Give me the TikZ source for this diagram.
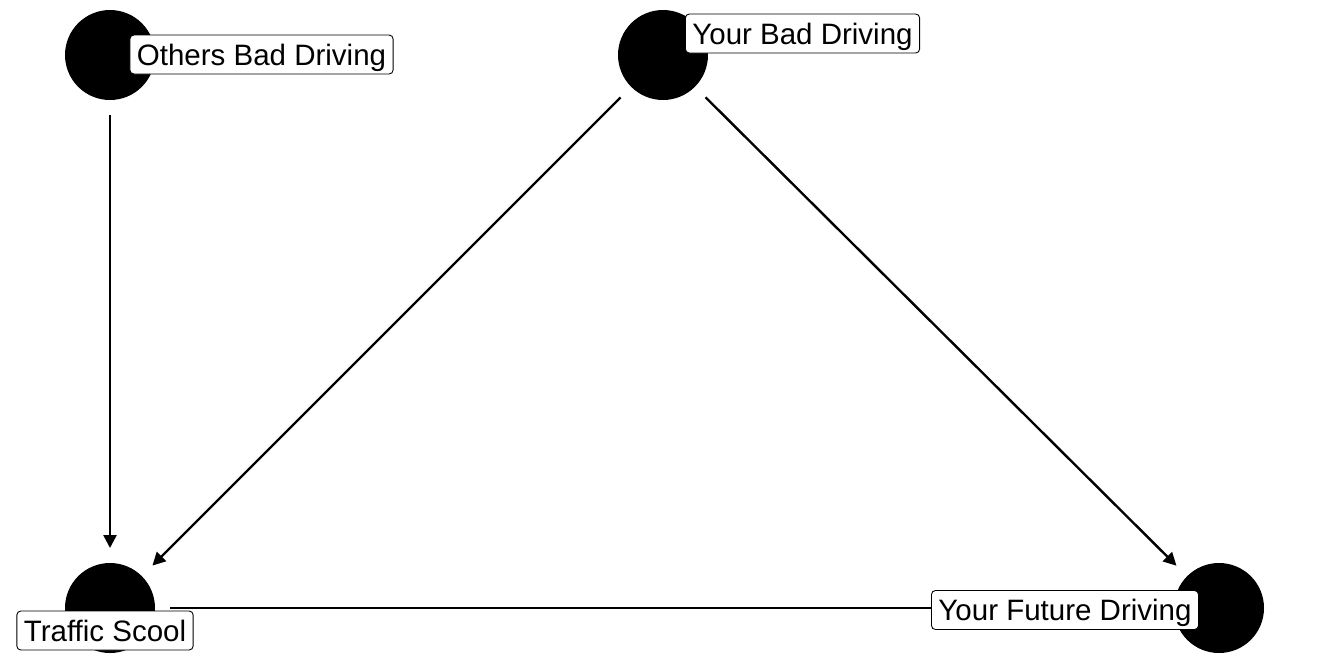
\documentclass[tikz,border=0pt]{standalone}
\usepackage{fontspec}
\setmainfont{Liberation Sans}
\usetikzlibrary{arrows.meta}
\begin{document}
\begin{tikzpicture}[x=1pt,y=-1pt,
        dagnode/.style={circle,fill=black,minimum size=90pt,inner sep=0pt,outer sep=15pt},
        dagedge/.style={line width=2.4pt,-{Triangle[length=13pt,width=13pt]}},
        daglabel/.style={draw=black,line width=0.9pt,fill=white,rounded corners=4pt,inner xsep=7pt,inner ysep=5pt,
            text height=25pt,text depth=4pt,font=\fontsize{29.5}{34}\selectfont}]
    \useasboundingbox (0,0) rectangle (1330,665);
    \node[dagnode] (others) at (110,55) {}; \node[dagnode] (yourbad) at (663,55) {};
    \node[dagnode] (traffic) at (110,608) {}; \node[dagnode] (future) at (1219,608) {};

    \draw[dagedge] (others) to (traffic);
    \draw[dagedge] (yourbad) to (traffic); \draw[dagedge] (yourbad) to (future);
    \draw[dagedge] (traffic) to (future);

    \node[daglabel] (othersl) at (261.5,54.5) {Others Bad Driving}; \node[daglabel] (yourbadl) at (802.5,33.5) {Your Bad Driving};
    \node[daglabel] (trafficl) at (105,630.5) {Traffic Scool}; \node[daglabel] (futurel) at (1065,610) {Your Future Driving};
\end{tikzpicture}
\end{document}
